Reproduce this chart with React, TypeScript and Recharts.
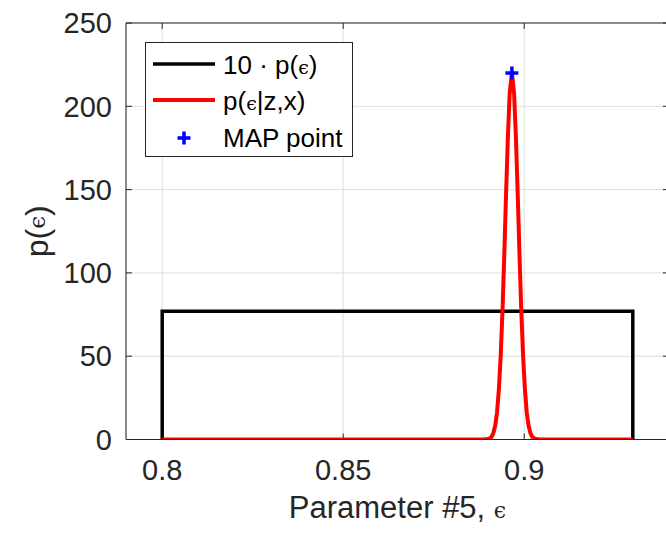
import React from 'react';
import {
  ComposedChart,
  Line,
  Scatter,
  XAxis,
  YAxis,
  CartesianGrid,
  ReferenceLine,
  Legend,
  Label,
} from 'recharts';

// ---- data ----
const xTicks = [0.8, 0.85, 0.9];
const yTicks = [0, 50, 100, 150, 200, 250];
const xDomain = [0.79, 0.94];
const yDomain = [0, 250];

// 10 * p(eps): uniform prior on [0.8, 0.93]
const priorX = [0.8, 0.8, 0.93, 0.93];
const priorY = [0, 76.92, 76.92, 0];

// posterior p(eps | z, x)
const postX = [
  0.8, 0.889, 0.89, 0.8905, 0.891, 0.8915, 0.892, 0.8925, 0.893, 0.8935, 0.894,
  0.8945, 0.895, 0.8955, 0.896, 0.8966, 0.8972, 0.8977, 0.8982, 0.8987, 0.8992,
  0.8997, 0.9002, 0.9007, 0.9012, 0.9017, 0.9022, 0.9027, 0.9032, 0.9042, 0.93,
];
const postY = [
  0, 0, 0.25, 0.7, 1.7, 4, 8.4, 16.4, 30, 50, 77,
  111, 148, 182, 208, 220, 208, 182, 148, 111, 77,
  50, 30, 16.4, 8.4, 4, 1.7, 0.7, 0.25, 0, 0,
];

// MAP point
const mapX = [0.8966];
const mapY = [220];

const priorData = priorX.map((x, i) => ({ x, y: priorY[i] }));
const postData = postX.map((x, i) => ({ x, y: postY[i] }));
const mapData = mapX.map((x, i) => ({ x, y: mapY[i] }));

// ---- styles ----
const AXIS = '#262626';
const GRID = '#dedede';
const FONT = '"Liberation Sans", Arial, Helvetica, sans-serif';
const SERIF = '"DejaVu Serif", "Liberation Serif", serif';
const TICK_X = 0.00166;
const TICK_Y = 3.6;

const EPS = '\u03F5';

const PlusShape = (props: any) => {
  const { cx, cy } = props;
  const s = 6.5;
  return (
    <path
      d={`M${cx - s},${cy}H${cx + s}M${cx},${cy - s}V${cy + s}`}
      stroke="#0000ff"
      strokeWidth={3.5}
      fill="none"
    />
  );
};

const XLabel = (props: any) => {
  const vb = props.viewBox || {};
  return (
    <text
      x={vb.x + vb.width / 2}
      y={vb.y + 78.5}
      textAnchor="middle"
      fill={AXIS}
      fontSize={31}
      fontFamily={FONT}
    >
      Parameter #5,{' '}
      <tspan fontFamily={SERIF} fontSize={22}>
        {EPS}
      </tspan>
    </text>
  );
};

const YLabel = (props: any) => {
  const vb = props.viewBox || {};
  const cy = vb.y + vb.height / 2;
  const cx = 37;
  return (
    <text
      x={cx}
      y={cy}
      transform={`rotate(-90, ${cx}, ${cy})`}
      textAnchor="middle"
      dominantBaseline="central"
      fill={AXIS}
      fontSize={32}
      fontFamily={FONT}
    >
      p(
      <tspan fontFamily={SERIF} fontSize={23}>
        {EPS}
      </tspan>
      )
    </text>
  );
};

const LegendBox = () => (
  <div
    style={{
      width: 208,
      height: 115,
      boxSizing: 'border-box',
      border: `1px solid ${AXIS}`,
      background: '#ffffff',
    }}
  >
    <svg width={206} height={113} style={{ display: 'block' }}>
      <line x1={7} x2={69} y1={21} y2={21} stroke="#000000" strokeWidth={3.5} />
      <text x={77} y={31} fontSize={26} fontFamily={FONT} fill="#000">
        10 · p(
        <tspan fontFamily={SERIF} fontSize={19}>
          {EPS}
        </tspan>
        )
      </text>
      <line x1={7} x2={69} y1={57} y2={57} stroke="#ff0000" strokeWidth={4} />
      <text x={77} y={67} fontSize={26} fontFamily={FONT} fill="#000">
        p(
        <tspan fontFamily={SERIF} fontSize={19}>
          {EPS}
        </tspan>
        |z,x)
      </text>
      <PlusShape cx={38} cy={95} />
      <text x={77} y={104} fontSize={26} fontFamily={FONT} fill="#000">
        MAP point
      </text>
    </svg>
  </div>
);

export default function App() {
  return (
    <div
      style={{
        position: 'fixed',
        left: 0,
        top: 0,
        width: 666,
        height: 535,
        overflow: 'hidden',
        background: '#ffffff',
      }}
    >
      <ComposedChart
        width={670}
        height={535}
        margin={{ top: 23, right: 1, bottom: 0, left: 0 }}
      >
        <CartesianGrid stroke={GRID} strokeWidth={1} />
        <XAxis
          dataKey="x"
          type="number"
          domain={xDomain}
          ticks={xTicks}
          interval={0}
          allowDataOverflow
          height={95.5}
          tickLine={false}
          tickSize={0}
          tickMargin={20}
          axisLine={{ stroke: AXIS, strokeWidth: 1 }}
          tick={{ fill: AXIS, fontSize: 29, fontFamily: FONT }}
        >
          <Label content={XLabel} />
        </XAxis>
        <YAxis
          type="number"
          domain={yDomain}
          ticks={yTicks}
          interval={0}
          allowDataOverflow
          width={126}
          tickLine={false}
          tickSize={0}
          tickMargin={14}
          axisLine={{ stroke: AXIS, strokeWidth: 1 }}
          tick={{ fill: AXIS, fontSize: 29, fontFamily: FONT }}
        >
          <Label content={YLabel} />
        </YAxis>
        <ReferenceLine y={250} stroke={AXIS} strokeWidth={1} />
        {xTicks.map((t) => (
          <ReferenceLine
            key={`b${t}`}
            segment={[{ x: t, y: 0 }, { x: t, y: TICK_Y }]}
            stroke={AXIS}
          />
        ))}
        {xTicks.map((t) => (
          <ReferenceLine
            key={`t${t}`}
            segment={[{ x: t, y: 250 }, { x: t, y: 250 - TICK_Y }]}
            stroke={AXIS}
          />
        ))}
        {yTicks.map((t) => (
          <ReferenceLine
            key={`l${t}`}
            segment={[{ x: 0.79, y: t }, { x: 0.79 + TICK_X, y: t }]}
            stroke={AXIS}
          />
        ))}
        {yTicks.map((t) => (
          <ReferenceLine
            key={`r${t}`}
            segment={[{ x: 0.94, y: t }, { x: 0.94 - TICK_X, y: t }]}
            stroke={AXIS}
          />
        ))}
        <Line
          data={priorData}
          dataKey="y"
          name="10 · p(ϵ)"
          type="linear"
          stroke="#000000"
          strokeWidth={3.5}
          dot={false}
          activeDot={false}
          isAnimationActive={false}
        />
        <Line
          data={postData}
          dataKey="y"
          name="p(ϵ|z,x)"
          type="linear"
          stroke="#ff0000"
          strokeWidth={4}
          dot={false}
          activeDot={false}
          isAnimationActive={false}
        />
        <Scatter
          data={mapData}
          dataKey="y"
          name="MAP point"
          shape={PlusShape}
          isAnimationActive={false}
        />
        <Legend
          layout="horizontal"
          verticalAlign="middle"
          align="center"
          content={LegendBox}
          wrapperStyle={{ left: 145, top: 42, width: 208, height: 115 }}
        />
      </ComposedChart>
    </div>
  );
}
